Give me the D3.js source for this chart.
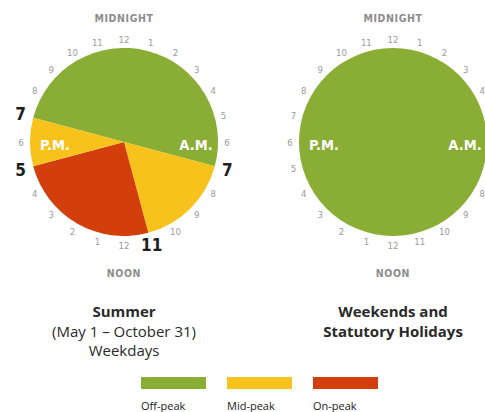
<!DOCTYPE html>
<html><head><meta charset="utf-8">
<script src="https://cdn.jsdelivr.net/npm/d3@7"></script>
<style>body{margin:0;background:#fff}svg{display:block}</style>
</head><body>
<svg id="c" width="485" height="412"></svg>
<script>
// Data
const categories = ["Off-peak", "Mid-peak", "On-peak"];
const colors = ["#8aad36", "#f8c21c", "#d33f0c"];
// Summer weekdays: [startHour, endHour, category index]
const summerStart = [19, 7, 11, 17];
const summerEnd   = [31, 11, 17, 19];
const summerCat   = [0, 1, 2, 1];
// Weekends: whole day off-peak
const weekendStart = [0];
const weekendEnd   = [24];
const weekendCat   = [0];
const hourLabels = ["12","1","2","3","4","5","6","7","8","9","10","11","12","1","2","3","4","5","6","7","8","9","10","11"];
const summerBoundaryHours = [19, 7, 11, 17];
const summerBoundaryLabels = ["7", "7", "11", "5"];
const summerTitle = ["Summer", "(May 1 – October 31)", "Weekdays"];
const weekendTitle = ["Weekends and", "Statutory Holidays"];

const svg = d3.select("#c");
const R = 94, labelR = 103, bigR = 107;
const angle = d3.scaleLinear().domain([0, 24]).range([0, 2 * Math.PI]);
const arc = d3.arc().innerRadius(0).outerRadius(R);
const condensed = "DejaVu Sans Condensed, DejaVu Sans";

function clock(cx, cy, starts, ends, cats, boundaryHours, boundaryLabels, titleLines, titleBoldAll) {
  const g = svg.append("g").attr("transform", `translate(${cx},${cy})`);
  g.selectAll("path.seg").data(starts.map((s, i) => ({s, e: ends[i], c: cats[i]})))
    .join("path").attr("class", "seg")
    .attr("d", d => arc({startAngle: angle(d.s), endAngle: angle(d.e)}))
    .attr("fill", d => colors[d.c]);
  const hours = d3.range(24).filter(h => !boundaryHours.includes(h));
  g.selectAll("text.h").data(hours).join("text").attr("class", "h")
    .attr("x", h => labelR * Math.sin(angle(h)))
    .attr("y", h => -labelR * Math.cos(angle(h)))
    .attr("text-anchor", "middle").attr("dominant-baseline", "central")
    .attr("font-family", condensed).attr("font-size", 9.5)
    .attr("fill", "#9a9a9a").text(h => hourLabels[h]);
  g.selectAll("text.b").data(boundaryHours).join("text").attr("class", "b")
    .attr("x", (h) => bigR * Math.sin(angle(h)))
    .attr("y", (h) => -bigR * Math.cos(angle(h)))
    .attr("text-anchor", "middle").attr("dominant-baseline", "central")
    .attr("font-family", condensed).attr("font-weight", "bold").attr("font-size", 17)
    .attr("fill", "#1e1e1e").text((h, i) => boundaryLabels[i]);
  g.append("text").attr("x", 0).attr("y", -124).attr("text-anchor", "middle").attr("dominant-baseline", "central")
    .attr("font-family", condensed).attr("font-weight", "bold").attr("font-size", 10.5)
    .attr("letter-spacing", 0.6).attr("fill", "#8c8c8c").text("MIDNIGHT");
  g.append("text").attr("x", 0).attr("y", 131).attr("text-anchor", "middle").attr("dominant-baseline", "central")
    .attr("font-family", condensed).attr("font-weight", "bold").attr("font-size", 10.5)
    .attr("letter-spacing", 0.6).attr("fill", "#8c8c8c").text("NOON");
  g.append("text").attr("x", -69).attr("y", 3).attr("text-anchor", "middle").attr("dominant-baseline", "central")
    .attr("font-family", condensed).attr("font-weight", "bold").attr("font-size", 14.5)
    .attr("fill", "#fff").text("P.M.");
  g.append("text").attr("x", 72).attr("y", 3).attr("text-anchor", "middle").attr("dominant-baseline", "central")
    .attr("font-family", condensed).attr("font-weight", "bold").attr("font-size", 14.5)
    .attr("fill", "#fff").text("A.M.");
  titleLines.forEach((t, i) => {
    g.append("text").attr("x", 0).attr("y", 169 + i * 19.5).attr("text-anchor", "middle").attr("dominant-baseline", "central")
      .attr("font-family", "Open Sans").attr("font-size", 15)
      .attr("font-weight", (titleBoldAll || i === 0) ? "bold" : "normal")
      .attr("fill", "#2a2a2a").text(t);
  });
}

clock(124, 142, summerStart, summerEnd, summerCat, summerBoundaryHours, summerBoundaryLabels, summerTitle, false);
clock(393, 142, weekendStart, weekendEnd, weekendCat, [], [], weekendTitle, true);

// Legend
const lx = d3.scaleBand().domain(categories).range([141, 378]).paddingInner(0.244).paddingOuter(0);
const leg = svg.append("g");
leg.selectAll("rect").data(categories).join("rect")
  .attr("x", d => lx(d)).attr("y", 377).attr("width", lx.bandwidth()).attr("height", 12)
  .attr("fill", (d, i) => colors[i]);
leg.selectAll("text").data(categories).join("text")
  .attr("x", d => lx(d)).attr("y", 405).attr("dominant-baseline", "central")
  .attr("font-family", "Open Sans").attr("font-size", 11).attr("fill", "#222").text(d => d);
</script>
</body></html>
